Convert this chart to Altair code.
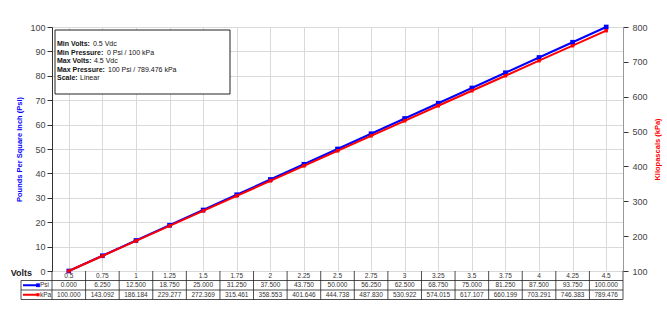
import altair as alt
import pandas as pd

volts = ["0.5", "0.75", "1", "1.25", "1.5", "1.75", "2", "2.25", "2.5", "2.75",
         "3", "3.25", "3.5", "3.75", "4", "4.25", "4.5"]
psi = [0.0, 6.25, 12.5, 18.75, 25.0, 31.25, 37.5, 43.75, 50.0, 56.25,
       62.5, 68.75, 75.0, 81.25, 87.5, 93.75, 100.0]
kpa = [100.000, 143.092, 186.184, 229.277, 272.369, 315.461, 358.553, 401.646,
       444.738, 487.830, 530.922, 574.015, 617.107, 660.199, 703.291, 746.383, 789.476]

info_labels = ["Min Volts:", "Min Pressure:", "Max Volts:", "Max Pressure:", "Scale:"]
info_values = ["0.5 Vdc", "0 Psi / 100 kPa", "4.5 Vdc", "100 Psi / 789.476 kPa", "Linear"]

df = pd.DataFrame({"volts": volts, "psi": psi, "kpa": kpa})

W, H = 571, 244
STEP = W / len(volts)
FONT = "Liberation Sans"
BLUE = "#0000ff"
RED = "#ff0000"

# table row geometry (pixels below plot)
R0, R1, R2, R3 = 244, 253.5, 263, 272.5

xenc = alt.X("volts:N", sort=volts,
             scale=alt.Scale(type="point", padding=0.5),
             axis=alt.Axis(grid=True, labels=False, ticks=False, domain=False,
                           title=None, gridColor="#d9d9d9"))

base = alt.Chart(df).encode(x=xenc)

psi_line = base.mark_line(color=BLUE, strokeWidth=2,
                          point=alt.OverlayMarkDef(shape="square", size=22, filled=True, color=BLUE)).encode(
    y=alt.Y("psi:Q", scale=alt.Scale(domain=[0, 100], nice=False),
            axis=alt.Axis(values=list(range(0, 101, 10)), grid=True, gridColor="#d9d9d9",
                          domainColor="#333333", tickColor="#333333", labelFontSize=9,
                          labelColor="#444444", labelFont=FONT,
                          title="Pounds Per Square Inch (Psi)", titleColor=BLUE,
                          titleFontSize=7.5, titleFont=FONT, titleFontWeight="bold",
                          titlePadding=6))
)

kpa_line = base.mark_line(color=RED, strokeWidth=2,
                          point=alt.OverlayMarkDef(shape="square", size=12, filled=True, color=RED)).encode(
    y=alt.Y("kpa:Q", scale=alt.Scale(domain=[100, 800], nice=False),
            axis=alt.Axis(orient="right", values=list(range(100, 801, 100)), grid=False,
                          domainColor="#999999", tickColor="#333333", labelFontSize=9,
                          labelColor="#444444", labelFont=FONT, labelPadding=4,
                          title="Kilopascals (kPa)", titleColor=RED, titleAngle=270,
                          titleFontSize=7.5, titleFont=FONT, titleFontWeight="bold",
                          titlePadding=14))
)

# table text
t_volts = base.mark_text(fontSize=6.5, font=FONT, color="#333333").encode(
    y=alt.value((R0 + R1) / 2), text="volts:N")
t_psi = base.mark_text(fontSize=6.5, font=FONT, color="#333333").encode(
    y=alt.value((R1 + R2) / 2), text=alt.Text("psi:Q", format=".3f"))
t_kpa = base.mark_text(fontSize=6.5, font=FONT, color="#333333").encode(
    y=alt.value((R2 + R3) / 2), text=alt.Text("kpa:Q", format=".3f"))

# column borders
col_rules = base.mark_rule(color="#222222", strokeWidth=0.8, xOffset=STEP / 2).encode(
    y=alt.value(R0), y2=alt.value(R3))

one = alt.Chart(pd.DataFrame({"a": [0]}))
frame = pd.DataFrame({"y": [R1, R2, R3]})
row_rules = alt.Chart(frame).mark_rule(color="#222222", strokeWidth=0.8).encode(
    x=alt.value(-31), x2=alt.value(W), y=alt.Y("y:Q", scale=None))
left_rule_a = one.mark_rule(color="#222222", strokeWidth=0.8).encode(
    x=alt.value(0), y=alt.value(R0), y2=alt.value(R1))
left_rule_b = one.mark_rule(color="#222222", strokeWidth=0.8).encode(
    x=alt.value(-31), y=alt.value(R1), y2=alt.value(R3))
left_rule_c = one.mark_rule(color="#222222", strokeWidth=0.8).encode(
    x=alt.value(0), y=alt.value(R1), y2=alt.value(R3))

# legend cells
leg_psi = one.mark_rule(color=BLUE, strokeWidth=2).encode(
    x=alt.value(-29), x2=alt.value(-14), y=alt.value((R1 + R2) / 2))
leg_psi_pt = one.mark_point(shape="square", size=14, filled=True, color=BLUE, opacity=1).encode(
    x=alt.value(-14), y=alt.value((R1 + R2) / 2))
leg_kpa = one.mark_rule(color=RED, strokeWidth=2).encode(
    x=alt.value(-29), x2=alt.value(-14), y=alt.value((R2 + R3) / 2))
leg_kpa_pt = one.mark_point(shape="square", size=10, filled=True, color=RED, opacity=1).encode(
    x=alt.value(-14), y=alt.value((R2 + R3) / 2))
leg_txt = alt.Chart(pd.DataFrame({"t": ["Psi", "kPa"], "y": [(R1 + R2) / 2, (R2 + R3) / 2]})).mark_text(
    fontSize=6.5, font=FONT, align="left", color="#333333").encode(
    x=alt.value(-12), y=alt.Y("y:Q", scale=None), text="t:N")

volts_lbl = one.mark_text(text="Volts", fontSize=9, font=FONT, fontWeight="bold",
                          align="right", color="#222222").encode(
    x=alt.value(-20), y=alt.value(R0 + 2))

# info box
box = one.mark_rect(fill="white", stroke="#222222", strokeWidth=1).encode(
    x=alt.value(3), x2=alt.value(178), y=alt.value(3), y2=alt.value(67))
info_df = pd.DataFrame({
    "label": info_labels, "value": info_values,
    "y": [17, 25.5, 34, 42.5, 51],
    "vx": [41, 55, 42, 56, 28],
})
info_lab = alt.Chart(info_df).mark_text(fontSize=7, font=FONT, fontWeight="bold",
                                         align="left", color="#111111").encode(
    x=alt.value(5), y=alt.Y("y:Q", scale=None), text="label:N")
info_val = alt.Chart(info_df).mark_text(fontSize=7, font=FONT,
                                         align="left", color="#111111").encode(
    x=alt.X("vx:Q", scale=None), y=alt.Y("y:Q", scale=None), text="value:N")

chart = alt.layer(
    psi_line, kpa_line,
    box, info_lab, info_val,
    col_rules, row_rules, left_rule_a, left_rule_b, left_rule_c,
    t_volts, t_psi, t_kpa,
    leg_psi, leg_psi_pt, leg_kpa, leg_kpa_pt, leg_txt, volts_lbl,
).resolve_scale(y="independent").properties(
    width=W, height=H,
    autosize=alt.AutoSizeParams(type="none"),
    padding={"left": 52, "top": 27, "right": 44, "bottom": 44},
).configure_view(stroke=None).configure(background="white")

chart.save("out.html", embed_options={"renderer": "svg", "actions": False})
